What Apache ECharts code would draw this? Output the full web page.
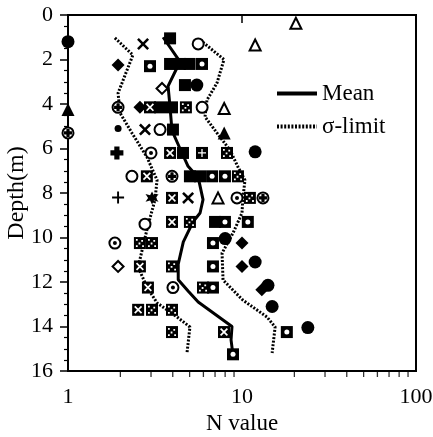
<!DOCTYPE html>
<html>
<head>
<meta charset="utf-8">
<script src="https://cdn.jsdelivr.net/npm/echarts@6/dist/echarts.min.js"></script>
<style>html,body{margin:0;padding:0;background:#fff}#c{width:433px;height:437px}</style>
</head>
<body>
<div id="c"></div>
<script>
// ---- data: [N value, depth (m)] ----
const meanLine = [[3.52,1.0],[4.4,2.1],[3.76,3.2],[3.86,4.15],[3.96,5.2],[4.4,6.0],[4.9,6.8],[5.6,7.3],[5.97,8.3],[5.74,8.9],[5.23,9.3],[4.6,10.2],[4.3,11.2],[4.3,11.9],[4.9,12.4],[5.6,12.9],[8.76,14.0],[8.65,14.6],[8.88,15.3]];
const sigmaLow = [[1.86,1.03],[2.36,1.8],[1.94,3.51],[1.99,4.4],[2.33,5.3],[2.84,6.38],[3.25,7.42],[3.16,8.31],[2.84,9.66],[2.53,11.33],[2.84,12.22],[3.25,12.94],[4.23,13.57],[5.02,14.02],[4.83,15.19]];
const sigmaHigh = [[5.74,1.12],[7.88,2.0],[7.18,3.06],[6.29,3.82],[6.13,4.58],[7.18,5.3],[8.53,6.07],[9.48,6.83],[10.4,7.42],[10.1,8.31],[10.0,8.9],[8.88,9.8],[7.68,10.7],[7.78,11.91],[10.1,12.81],[13.9,13.57],[15.5,14.02],[14.9,15.19]];

const filledCircle = [[1.0,1.2],[5.5,3.15],[11.9,6.15],[8.0,10.05],[11.9,11.1],[14.1,12.15],[14.9,13.1],[23.9,14.05]];
const smallDot = [[1.94,5.1]];
const filledTriangle = [[1.0,4.25],[7.9,5.3]];
const openTriangle = [[20.4,0.37],[11.9,1.35],[7.9,4.2],[7.28,8.22]];
const filledDiamond = [[1.94,2.25],[2.59,4.15],[10.0,10.25],[10.0,11.3],[13.0,12.35]];
const openDiamond = [[3.47,3.3],[1.94,11.3]];
const crossMark = [[2.7,1.3],[2.77,5.15],[4.9,8.22]];
const thinPlus = [[1.94,8.2]];
const thickPlus = [[1.91,6.2]];
const openCircle = [[5.6,1.3],[3.38,5.15],[2.33,7.25],[2.77,9.4],[5.9,4.15]];
const dotCircle = [[3.0,6.2],[1.86,10.25],[4.01,12.25],[9.36,8.22]];
const circlePlus = [[1.94,4.15],[1.0,5.3],[3.96,7.25],[13.2,8.22]];
const filledSquare = [[3.86,1.05],[3.86,2.2],[4.4,2.2],[5.0,2.2],[4.7,3.15],[3.38,4.15],[3.96,4.15],[4.01,5.15],[4.58,6.2],[5.02,7.25],[5.74,7.25],[7.0,9.3]];
const squareX = [[2.96,4.15],[3.86,6.2],[2.84,7.25],[3.96,8.22],[3.96,9.3],[2.59,11.3],[2.88,12.25],[2.53,13.25],[7.88,14.25]];
const squareDots = [[4.76,4.15],[8.2,6.2],[9.48,7.25],[11.1,8.22],[5.02,9.3],[2.59,10.25],[3.04,10.25],[3.96,11.3],[5.97,12.25],[3.04,13.25],[3.96,13.25],[3.96,14.25]];
const squareCircle = [[2.96,2.3],[5.89,2.2],[6.73,7.25],[7.98,7.25],[7.98,9.3],[10.8,9.3],[6.81,10.25],[6.81,11.3],[6.81,12.25],[18.1,14.25],[8.88,15.25]];
const squarePlus = [[5.89,6.2]];
const blobMark = [[3.04,8.22]];

const xTicks = [1, 10, 100];
const xMinorTicks = [2,3,4,5,6,7,8,9,20,30,40,50,60,70,80,90];
const yTickStep = 2;

// ---- symbols ----
const P_X = 'path://M0,1.5 L1.5,0 L5,3.5 L8.5,0 L10,1.5 L6.5,5 L10,8.5 L8.5,10 L5,6.5 L1.5,10 L0,8.5 L3.5,5 Z';
const P_PLUS = 'path://M4.2,0 H5.8 V4.2 H10 V5.8 H5.8 V10 H4.2 V5.8 H0 V4.2 H4.2 Z';
const P_TPLUS = 'path://M3,0 H7 V3 H10 V7 H7 V10 H3 V7 H0 V3 H3 Z';
const P_DOTS = 'path://M0,0h2v2h-2z M6,1h2v2h-2z M3,4h2v2h-2z M0,7h2v2h-2z M7,7h2v2h-2z';
const P_BLOB = 'path://M5,0 L6.5,3 L10,2 L8,5 L10,8 L6.5,7 L5,10 L3.5,7 L0,8 L2,5 L0,2 L3.5,3 Z';
const P_VTICK = 'path://M0,0 H1 V10 H0 Z';

const FONT = 'Liberation Serif';
const BLK = '#000';

function sc(data, symbol, size, fill, border, z) {
  return {
    type: 'scatter', data: data, symbol: symbol, symbolSize: size, silent: true, z: z || 3,
    itemStyle: { color: fill, borderColor: border ? BLK : undefined, borderWidth: border ? 2 : 0, opacity: 1 }
  };
}

const series = [
  { name: 'Mean', type: 'line', data: meanLine, symbol: 'none', showSymbol: false, silent: true, z: 4,
    lineStyle: { color: BLK, width: 3 }, itemStyle: { color: BLK } },
  { name: 'σ-limit', type: 'line', data: sigmaLow, symbol: 'none', showSymbol: false, silent: true, z: 2,
    lineStyle: { color: BLK, width: 3, type: [2, 1.6] }, itemStyle: { color: BLK } },
  { name: 'σ-limit', type: 'line', data: sigmaHigh, symbol: 'none', showSymbol: false, silent: true, z: 2,
    lineStyle: { color: BLK, width: 3, type: [2, 1.6] }, itemStyle: { color: BLK } },
  sc(filledCircle, 'circle', 13, BLK),
  sc(smallDot, 'circle', 7, BLK),
  sc(filledTriangle, 'triangle', 13, BLK),
  sc(openTriangle, 'triangle', 11, '#fff', true),
  sc(filledDiamond, 'diamond', 13, BLK),
  sc(openDiamond, 'diamond', 11, '#fff', true),
  sc(crossMark, P_X, 12, BLK),
  sc(thinPlus, P_PLUS, 12, BLK),
  sc(thickPlus, P_TPLUS, 13, BLK),
  sc(openCircle, 'circle', 11, '#fff', true),
  sc(dotCircle, 'circle', 11, '#fff', true),
  sc(dotCircle, 'circle', 4, BLK, false, 5),
  sc(circlePlus, 'circle', 11, '#fff', true),
  sc(circlePlus, P_TPLUS, 8, BLK, false, 5),
  sc(filledSquare, 'rect', 12, BLK),
  sc(squareX, 'rect', 12, BLK),
  sc(squareX, P_X, 8, '#fff', false, 5),
  sc(squareDots, 'rect', 12, BLK),
  sc(squareDots, P_DOTS, 8, '#fff', false, 5),
  sc(squareCircle, 'rect', 12, BLK),
  sc(squareCircle, 'circle', 5, '#fff', false, 5),
  sc(squarePlus, 'rect', 12, BLK),
  sc(squarePlus, P_PLUS, 8, '#fff', false, 5),
  sc(blobMark, P_BLOB, 13, BLK),
  // minor ticks of the log axis, placed through the axis scale
  { type: 'scatter', data: xMinorTicks.map(v => [v, 16]), symbol: P_VTICK, symbolSize: [1.3, 5],
    symbolOffset: [0, 3.5], clip: false, silent: true, z: 6, itemStyle: { color: BLK } }
];

const chart = echarts.init(document.getElementById('c'), null, { renderer: 'canvas' });
chart.setOption({
  animation: false,
  backgroundColor: '#fff',
  grid: { left: 68, right: 17, top: 15, bottom: 66, containLabel: false, outerBoundsMode: 'none',
    show: true, borderColor: BLK, borderWidth: 2, backgroundColor: 'transparent' },
  legend: {
    data: ['Mean', 'σ-limit'], orient: 'vertical', left: 270, top: 77, itemWidth: 40, itemHeight: 14, itemGap: 10,
    itemStyle: { opacity: 0 }, lineStyle: { width: 4 },
    textStyle: { fontFamily: FONT, fontSize: 23, color: BLK }, selectedMode: false
  },
  xAxis: {
    type: 'log', logBase: 10, min: xTicks[0], max: xTicks[xTicks.length - 1],
    axisLine: { lineStyle: { color: BLK, width: 2 } },
    axisTick: { show: true, length: 8, lineStyle: { color: BLK, width: 1.5 } },
    minorTick: { show: false },
    splitLine: { show: false }, minorSplitLine: { show: false },
    axisLabel: { fontFamily: FONT, fontSize: 22, color: BLK, margin: 15 },
    name: 'N value', nameLocation: 'middle', nameGap: 41, nameMoveOverlap: false,
    nameTextStyle: { fontFamily: FONT, fontSize: 23, color: BLK }
  },
  yAxis: {
    type: 'value', inverse: true, min: 0, max: 16, interval: yTickStep,
    axisLine: { lineStyle: { color: BLK, width: 2 } },
    axisTick: { show: true, length: 8, lineStyle: { color: BLK, width: 1.5 } },
    minorTick: { show: true, splitNumber: 4, length: 4, lineStyle: { color: BLK, width: 1.2 } },
    splitLine: { show: false },
    axisLabel: { fontFamily: FONT, fontSize: 22, color: BLK, margin: 15 },
    name: 'Depth(m)', nameLocation: 'middle', nameGap: 39, nameMoveOverlap: false,
    nameTextStyle: { fontFamily: FONT, fontSize: 24, color: BLK }
  },
  series: series
});
</script>
</body>
</html>
